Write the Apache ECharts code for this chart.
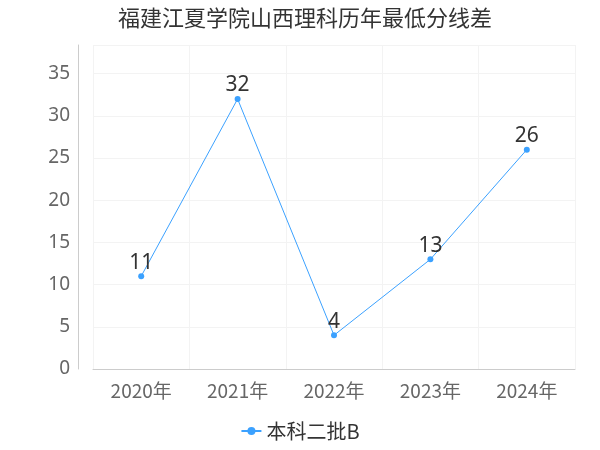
<!DOCTYPE html>
<html><head><meta charset="utf-8"><script src="https://cdn.jsdelivr.net/npm/echarts@6/dist/echarts.min.js"></script></head>
<body style="margin:0"><div id="c" style="width:600px;height:450px"></div>
<script>
const categories=['2020年','2021年','2022年','2023年','2024年'];
const values=[11,32,4,13,26];
const seriesName='本科二批B';
const ch=echarts.init(document.getElementById('c'));
ch.setOption({
 title:{text:'福建江夏学院山西理科历年最低分线差',left:300,top:2,textAlign:'center',textStyle:{fontSize:22,fontWeight:'normal',color:'#333',fontFamily:'Noto Sans CJK SC'}},
 legend:{bottom:4,left:'center',itemWidth:20,itemHeight:10,textStyle:{fontSize:20,color:'#333',fontFamily:'Noto Sans CJK SC'},data:[seriesName]},
 grid:{left:93,right:25,top:45,bottom:81},
 xAxis:{type:'category',data:categories,axisLine:{lineStyle:{color:'#ccc'}},axisTick:{show:false},axisLabel:{fontSize:19,color:'#666',margin:12,fontFamily:'Noto Sans CJK SC'},splitLine:{show:true,lineStyle:{color:'#f3f3f3'}}},
 yAxis:{type:'value',min:0,max:38.4,interval:5,offset:15,axisLine:{show:true,lineStyle:{color:'#ccc'}},axisTick:{show:false},axisLabel:{fontSize:19,color:'#666',fontFamily:'Noto Sans',showMaxLabel:false,formatter:v=>v%5===0?String(v):''},splitLine:{lineStyle:{color:'#f3f3f3'}}},
 series:[{name:seriesName,type:'line',data:values,symbol:'circle',symbolSize:6,color:'#3ba1ff',lineStyle:{width:1},label:{show:true,position:'top',distance:0,fontSize:21,color:'#333',fontFamily:'Noto Sans'}}]
});
</script></body></html>
